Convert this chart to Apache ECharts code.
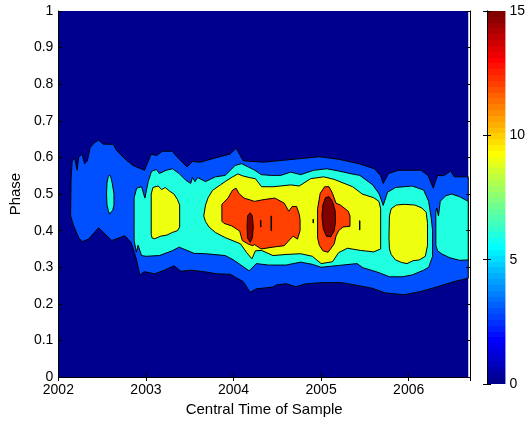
<!DOCTYPE html>
<html><head><meta charset="utf-8">
<script src="https://cdn.jsdelivr.net/npm/echarts/dist/echarts.min.js"></script>
<style>html,body{margin:0;padding:0;background:#fff}#c{width:528px;height:422px}</style>
</head><body><div id="c"></div>
<script>
// contour levels and colour scale range
const levels = [0, 3, 6, 9, 12, 15];
const colorRange = [0, 15];
const xRange = [2002, 2006.7];
const yRange = [0, 1];

// filled contour regions, outlines as [time, phase]
const band0 = [[2002,0],[2002,1],[2006.68,1],[2006.68,0]];
const band3 = [
 [2002.14,0.44],[2002.145,0.54],[2002.158,0.59],[2002.187,0.598],[2002.214,0.565],[2002.232,0.60],[2002.27,0.609],
 [2002.30,0.583],[2002.33,0.59],[2002.364,0.627],[2002.41,0.64],[2002.458,0.647],[2002.514,0.636],[2002.627,0.636],
 [2002.665,0.619],[2002.76,0.596],[2002.852,0.578],[2002.984,0.565],[2003.06,0.609],[2003.12,0.605],[2003.19,0.617],
 [2003.30,0.617],[2003.36,0.600],[2003.47,0.574],[2003.53,0.589],[2003.62,0.587],[2003.81,0.600],[2003.96,0.609],
 [2004.03,0.625],[2004.11,0.591],[2004.34,0.587],[2004.56,0.592],[2004.98,0.602],[2005.2,0.595],[2005.43,0.583],
 [2005.61,0.569],[2005.68,0.55],[2005.71,0.529],[2005.77,0.556],[2005.88,0.565],[2006.14,0.565],[2006.22,0.551],
 [2006.28,0.516],[2006.33,0.551],[2006.40,0.55],[2006.48,0.563],[2006.52,0.547],[2006.68,0.547],
 [2006.68,0.27],[2006.52,0.261],[2006.33,0.247],[2006.14,0.234],[2005.95,0.225],[2005.73,0.230],[2005.58,0.243],
 [2005.24,0.258],[2005.01,0.258],[2004.83,0.255],[2004.71,0.247],[2004.60,0.255],[2004.49,0.252],[2004.45,0.246],
 [2004.26,0.241],[2004.19,0.232],[2004.11,0.261],[2003.96,0.281],[2003.81,0.282],[2003.66,0.288],[2003.51,0.292],
 [2003.40,0.289],[2003.32,0.304],[2003.21,0.292],[2003.10,0.282],[2002.98,0.288],[2002.93,0.279],[2002.89,0.323],
 [2002.83,0.368],[2002.76,0.386],[2002.61,0.373],[2002.46,0.408],[2002.345,0.377],[2002.27,0.370],[2002.232,0.381],
 [2002.175,0.413]
];
const band6a = [
 [2002.55,0.50],[2002.555,0.53],[2002.57,0.548],[2002.585,0.552],[2002.60,0.545],[2002.615,0.53],[2002.635,0.50],
 [2002.635,0.47],[2002.62,0.455],[2002.60,0.45],[2002.585,0.445],[2002.57,0.455],[2002.555,0.47]
];
const band6b = [
 [2002.865,0.40],[2002.865,0.49],[2002.894,0.516],[2002.95,0.52],[2002.988,0.489],[2003.026,0.534],[2003.063,0.562],
 [2003.12,0.567],[2003.153,0.556],[2003.229,0.565],[2003.303,0.569],[2003.379,0.556],[2003.454,0.538],[2003.511,0.529],
 [2003.53,0.545],[2003.56,0.534],[2003.59,0.545],[2003.68,0.534],[2003.793,0.547],[2003.905,0.551],[2004.018,0.578],
 [2004.092,0.583],[2004.168,0.574],[2004.244,0.565],[2004.315,0.553],[2004.43,0.551],[2004.54,0.551],[2004.653,0.560],
 [2004.766,0.553],[2004.915,0.565],[2005.067,0.569],[2005.2,0.563],[2005.33,0.556],[2005.442,0.551],[2005.589,0.525],
 [2005.664,0.50],[2005.709,0.469],[2005.758,0.505],[2005.851,0.518],[2006.039,0.522],[2006.171,0.511],[2006.228,0.480],
 [2006.257,0.435],[2006.273,0.40],[2006.273,0.33],
 [2006.228,0.30],[2006.171,0.292],[2006.039,0.279],[2005.93,0.274],[2005.78,0.274],[2005.664,0.285],[2005.476,0.299],
 [2005.41,0.310],[2005.2,0.305],[2005.0,0.30],[2004.9,0.308],[2004.766,0.314],[2004.6,0.306],[2004.40,0.306],
 [2004.26,0.31],[2004.18,0.29],[2004.12,0.30],[2004.0,0.32],[2003.905,0.332],[2003.68,0.337],[2003.55,0.338],
 [2003.379,0.355],[2003.30,0.345],[2003.153,0.332],[2003.0,0.33],[2002.95,0.332],[2002.91,0.36],[2002.89,0.341],
 [2002.865,0.373]
];
const band6c = [
 [2006.31,0.36],[2006.31,0.45],[2006.32,0.462],[2006.34,0.44],[2006.36,0.480],[2006.42,0.495],[2006.49,0.50],
 [2006.58,0.493],[2006.68,0.48],[2006.68,0.32],[2006.58,0.319],[2006.47,0.326],[2006.38,0.336],[2006.33,0.345]
];
const band9a = [
 [2003.06,0.39],[2003.06,0.50],[2003.08,0.518],[2003.14,0.522],[2003.18,0.512],[2003.22,0.518],[2003.27,0.508],
 [2003.32,0.50],[2003.36,0.485],[2003.385,0.47],[2003.385,0.41],[2003.36,0.40],[2003.30,0.395],[2003.24,0.388],
 [2003.17,0.385],[2003.10,0.378],[2003.07,0.38]
];
const band9b = [
 [2003.66,0.44],[2003.68,0.47],[2003.71,0.49],[2003.76,0.51],[2003.85,0.525],[2003.91,0.535],[2003.99,0.547],
 [2004.05,0.555],[2004.10,0.55],[2004.18,0.545],[2004.25,0.542],[2004.32,0.52],[2004.45,0.52],[2004.54,0.522],
 [2004.653,0.525],[2004.75,0.522],[2004.88,0.542],[2005.03,0.547],[2005.15,0.54],[2005.36,0.52],[2005.47,0.50],
 [2005.6,0.49],[2005.66,0.48],[2005.68,0.46],[2005.68,0.35],
 [2005.6,0.342],[2005.45,0.346],[2005.3,0.352],[2005.2,0.34],[2005.13,0.315],[2005.0,0.31],[2004.9,0.33],
 [2004.766,0.337],[2004.6,0.335],[2004.45,0.332],[2004.32,0.346],[2004.25,0.345],[2004.21,0.323],[2004.15,0.34],
 [2004.08,0.364],[2003.905,0.381],[2003.793,0.395],[2003.72,0.41],[2003.68,0.425]
];
const band9c = [
 [2005.775,0.38],[2005.78,0.44],[2005.80,0.46],[2005.86,0.47],[2005.95,0.472],[2006.07,0.47],[2006.15,0.462],
 [2006.20,0.45],[2006.215,0.42],[2006.215,0.36],[2006.19,0.33],[2006.12,0.32],[2006.05,0.318],[2005.98,0.31],
 [2005.92,0.313],[2005.85,0.32],[2005.80,0.335],[2005.78,0.35]
];
const band12a = [
 [2003.867,0.426],[2003.867,0.472],[2003.88,0.475],[2003.937,0.489],[2003.99,0.511],[2004.03,0.516],[2004.06,0.502],
 [2004.12,0.489],[2004.24,0.480],[2004.35,0.485],[2004.47,0.489],[2004.58,0.475],[2004.63,0.453],[2004.67,0.466],
 [2004.72,0.466],[2004.75,0.445],[2004.76,0.43],[2004.76,0.40],[2004.73,0.377],[2004.68,0.385],[2004.64,0.375],
 [2004.58,0.359],[2004.45,0.355],[2004.315,0.35],[2004.24,0.362],[2004.22,0.359],[2004.17,0.363],[2004.10,0.373],
 [2004.07,0.399],[2003.98,0.413],[2003.89,0.42]
];
const band12b = [
 [2004.96,0.38],[2004.96,0.46],[2004.99,0.502],[2005.04,0.520],[2005.09,0.52],[2005.13,0.502],[2005.17,0.475],
 [2005.22,0.47],[2005.31,0.453],[2005.33,0.44],[2005.33,0.412],[2005.25,0.41],[2005.20,0.40],[2005.17,0.385],
 [2005.15,0.364],[2005.08,0.341],[2005.02,0.345],[2004.98,0.36]
];
const band12c = [[2004.908,0.421],[2004.908,0.431],[2004.912,0.431],[2004.912,0.421]];
const band12d = [[2005.438,0.402],[2005.438,0.427],[2005.443,0.427],[2005.443,0.402]];
const band15a = [
 [2004.16,0.38],[2004.155,0.41],[2004.16,0.44],[2004.19,0.449],[2004.215,0.44],[2004.225,0.41],[2004.215,0.38],
 [2004.19,0.368]
];
const band15b = [
 [2005.01,0.44],[2005.02,0.47],[2005.05,0.49],[2005.09,0.493],[2005.13,0.48],[2005.16,0.455],[2005.165,0.425],
 [2005.15,0.40],[2005.11,0.383],[2005.06,0.385],[2005.025,0.405]
];
const band15c = [[2004.308,0.41],[2004.308,0.428],[2004.313,0.428],[2004.313,0.41]];
const band15d = [[2004.428,0.40],[2004.428,0.44],[2004.434,0.44],[2004.434,0.40]];

// MATLAB jet(64) colormap
function jet(i){ // i: 1..64
  const n = 16;
  const ramp = (k)=>{ if(k<1||k>47) return 0; if(k<=n) return k/n; if(k<=2*n-1) return 1; return (47-k+1)/n; };
  const g = ramp(i-8), r = ramp(i-24), b = ramp(i+8);
  const h = v => Math.round(Math.min(1,Math.max(0,v))*255).toString(16).padStart(2,'0');
  return '#'+h(r)+h(g)+h(b);
}
function levelColor(L){
  const idx = Math.min(64, Math.floor((L-colorRange[0])/(colorRange[1]-colorRange[0])*64)+1);
  return jet(idx);
}

function poly(pts, level, stroke){
  const color = levelColor(level);
  return {
    type:'custom', xAxisIndex:0, yAxisIndex:0, silent:true, animation:false,
    data: pts, encode:{x:0,y:1},
    renderItem(params, api){
      if(params.dataIndex!==0) return null;
      return {type:'polygon', shape:{points: pts.map(p=>api.coord(p))},
        style:{fill:color, stroke: stroke ? '#000' : null, lineWidth: stroke ? 1 : 0}};
    }
  };
}

const fam = 'Liberation Sans, Arial, Helvetica, sans-serif';
const font = {fontFamily:fam, fontSize:14, color:'#000'};
const nameFont = {fontFamily:fam, fontSize:15, color:'#000'};
const tick = {show:true, inside:true, length:4, lineStyle:{color:'#000'}};
const line = {show:true, lineStyle:{color:'#000', width:1}};

const stops = [];
for(let i=1;i<=64;i++){ const c = jet(i); stops.push({offset:(i-1)/64,color:c},{offset:i/64,color:c}); }

const chart = echarts.init(document.getElementById('c'), null, {renderer:'canvas'});
chart.setOption({
  backgroundColor:'#fff',
  animation:false,
  grid:[
    {left:53, top:11, width:417, height:373},
    {left:487, top:11, width:20, height:373}
  ],
  xAxis:[
    {gridIndex:0, type:'value', min:xRange[0], max:xRange[1], interval:1, position:'bottom', z:10,
     axisLine:line, axisTick:tick, splitLine:{show:false},
     axisLabel:{...font, margin:6, showMaxLabel:false, formatter: v => String(v)},
     name:'Central Time of Sample', nameLocation:'middle', nameGap:20, nameTextStyle:{...nameFont}},
    {gridIndex:0, type:'value', min:xRange[0], max:xRange[1], interval:1, position:'top', z:10,
     axisLine:line, axisTick:tick, splitLine:{show:false}, axisLabel:{show:false}},
    {gridIndex:1, type:'value', min:0, max:1, show:false}
  ],
  yAxis:[
    {gridIndex:0, type:'value', min:yRange[0], max:yRange[1], interval:0.1, position:'left', z:10,
     axisLine:line, axisTick:tick, splitLine:{show:false}, axisLabel:{...font, margin:5},
     name:'Phase', nameLocation:'middle', nameGap:27, nameRotate:90, nameTextStyle:{...nameFont}},
    {gridIndex:0, type:'value', min:yRange[0], max:yRange[1], interval:0.1, position:'right', z:10,
     axisLine:line, axisTick:tick, splitLine:{show:false}, axisLabel:{show:false}},
    {gridIndex:1, type:'value', min:colorRange[0], max:colorRange[1], interval:5, position:'right', z:10,
     axisLine:line, axisTick:tick, splitLine:{show:false}, axisLabel:{...font, margin:4}},
    {gridIndex:1, type:'value', min:colorRange[0], max:colorRange[1], interval:5, position:'left', z:10,
     axisLine:line, axisTick:tick, splitLine:{show:false}, axisLabel:{show:false}}
  ],
  series:[
    poly(band0, levels[0], false),
    poly(band3, levels[1], true),
    poly(band6a, levels[2], true), poly(band6b, levels[2], true), poly(band6c, levels[2], true),
    poly(band9a, levels[3], true), poly(band9b, levels[3], true), poly(band9c, levels[3], true),
    poly(band12a, levels[4], true), poly(band12b, levels[4], true), poly(band12c, levels[4], true), poly(band12d, levels[4], true),
    poly(band15a, levels[5], true), poly(band15b, levels[5], true), poly(band15c, levels[5], true), poly(band15d, levels[5], true),
    {type:'custom', xAxisIndex:2, yAxisIndex:2, silent:true, animation:false,
     data:[[0, colorRange[0]],[1, colorRange[1]]], encode:{x:0,y:1},
     renderItem(params, api){
       if(params.dataIndex!==0) return null;
       const p0 = api.coord([0, colorRange[0]]), p1 = api.coord([1, colorRange[1]]);
       return {type:'rect', shape:{x:p0[0], y:p1[1], width:p1[0]-p0[0], height:p0[1]-p1[1]},
         style:{fill:new echarts.graphic.LinearGradient(0,1,0,0,stops)}};
     }}
  ]
});
</script></body></html>
